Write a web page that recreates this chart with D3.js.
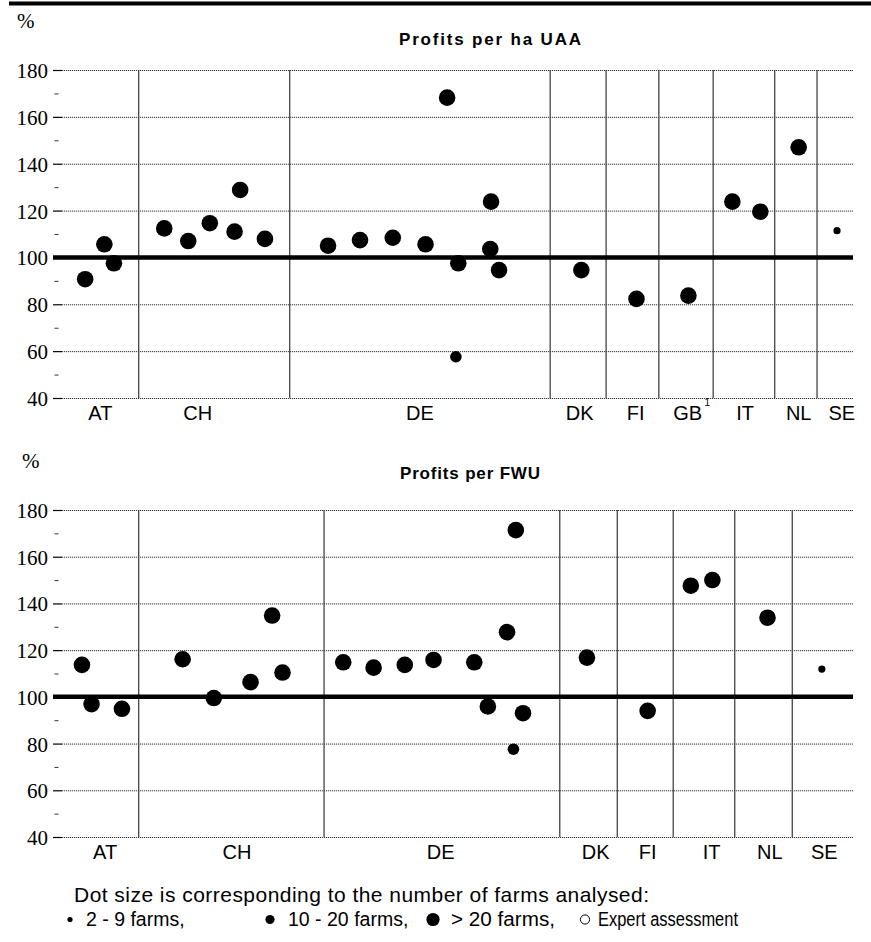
<!DOCTYPE html>
<html>
<head>
<meta charset="utf-8">
<script src="https://cdn.jsdelivr.net/npm/d3@7"></script>
<style>
  html, body { margin: 0; padding: 0; background: #fff; }
  svg { display: block; }
</style>
</head>
<body>
<svg id="chart" width="871" height="942"></svg>
<script>
// ---------------- DATA ----------------
const yTicksMajor = [40, 60, 80, 100, 120, 140, 160, 180];
const yTicksMinor = [50, 70, 90, 110, 130, 150, 170];

// Panel 1: Profits per ha UAA
const uaaCountries = ["AT", "CH", "DE", "DK", "FI", "GB", "IT", "NL", "SE"];
const uaaCountrySlot = [5.8, 18.0, 45.8, 65.8, 72.8, 79.3, 86.5, 93.2, 98.6];
const uaaDividers = [10.6, 29.5, 62.1, 69.1, 75.7, 82.5, 90.2, 95.5];
const uaaSlot  = [3.9, 6.3, 7.5,
                  13.8, 16.8, 19.5, 22.6, 23.3, 26.4,
                  34.3, 38.3, 42.4, 46.5, 49.2, 50.6, 50.3, 54.7, 54.6, 55.7,
                  66.0, 72.9, 79.4, 84.9, 88.4, 93.2, 98.0];
const uaaValue = [90.7, 105.6, 97.5,
                  112.4, 107.0, 114.6, 111.0, 128.8, 107.9,
                  105.0, 107.4, 108.4, 105.6, 168.2, 97.5, 57.6, 123.8, 103.6, 94.6,
                  94.6, 82.3, 83.7, 123.8, 119.5, 147.0, 111.4];
const uaaSize  = ["L","L","L",
                  "L","L","L","L","L","L",
                  "L","L","L","L","L","L","M","L","L","L",
                  "L","L","L","L","L","L","S"];

// Panel 2: Profits per FWU
const fwuCountries = ["AT", "CH", "DE", "DK", "FI", "IT", "NL", "SE"];
const fwuCountrySlot = [6.4, 22.9, 48.4, 67.8, 74.3, 82.3, 89.6, 96.4];
const fwuDividers = [10.6, 33.8, 63.3, 70.5, 77.5, 85.2, 92.4];
const fwuSlot  = [3.5, 4.7, 8.5,
                  16.1, 20.0, 24.6, 27.3, 28.6,
                  36.2, 40.0, 43.9, 47.5, 52.6, 54.3, 56.7, 57.5, 57.8, 58.7,
                  66.7, 74.3, 79.7, 82.4, 89.3, 96.1];
const fwuValue = [113.7, 96.9, 94.9,
                  116.1, 99.5, 106.3, 134.8, 110.4,
                  114.8, 112.5, 113.7, 115.8, 114.8, 95.9, 127.7, 77.6, 171.4, 93.0,
                  116.8, 94.0, 147.6, 150.0, 133.9, 111.9];
const fwuSize  = ["L","L","L",
                  "L","L","L","L","L",
                  "L","L","L","L","L","L","L","M","L","L",
                  "L","L","L","L","L","S"];

const sizeClasses = ["S", "M", "L"];
const legendTitle = "Dot size is corresponding to the number of farms analysed:";
const legendLabels = ["2 - 9 farms,", "10 - 20 farms,", "> 20 farms,", "Expert assessment"];

// ---------------- DRAWING ----------------
const svg = d3.select("#chart");
const serif = "'Liberation Serif', 'Times New Roman', Times, serif";
const sans = "'Liberation Sans', Arial, Helvetica, sans-serif";

const rScale = d3.scaleOrdinal().domain(sizeClasses).range([3.6, 5.8, 8.3]);

// top rule
svg.append("line").attr("x1", 9).attr("x2", 871).attr("y1", 3.5).attr("y2", 3.5)
  .attr("stroke", "#000").attr("stroke-width", 4);

function drawPanel(opts) {
  const g = svg.append("g");
  const x = d3.scaleLinear().domain([0, 100]).range([54, 853]);
  const y = d3.scaleLinear().domain([40, 180]).range([opts.yBottom, opts.yTop]);

  // % sign
  g.append("text").attr("x", opts.pctX).attr("y", opts.pctY)
    .attr("font-family", serif).attr("font-size", 21).text("%");

  // title
  g.append("text").attr("x", opts.titleX).attr("y", opts.titleY)
    .attr("font-family", sans).attr("font-size", 17).attr("font-weight", "bold")
    .attr("textLength", opts.titleLen).attr("lengthAdjust", "spacing")
    .text(opts.title);

  // grid (dotted)
  const grid = g.append("g").attr("transform", "translate(62,0)")
    .call(d3.axisLeft(y).tickValues(yTicksMajor.filter(v => v !== 100))
      .tickSize(-(853 - 62)).tickFormat(""));
  grid.select(".domain").remove();
  grid.selectAll("line").attr("stroke", "#333").attr("stroke-width", 1)
    .attr("stroke-dasharray", "1.2,0.8");

  // major ticks + labels
  const ax = g.append("g").attr("transform", "translate(62,0)")
    .call(d3.axisLeft(y).tickValues(yTicksMajor).tickSize(9).tickPadding(5)
      .tickFormat(d3.format("d")));
  ax.select(".domain").remove();
  ax.selectAll("line").attr("stroke", "#000").attr("stroke-width", 1.2);
  ax.selectAll("text").attr("font-family", serif).attr("font-size", 21)
    .attr("fill", "#000").attr("dy", "0.36em");

  // minor ticks
  const mi = g.append("g").attr("transform", "translate(58.5,0)")
    .call(d3.axisLeft(y).tickValues(yTicksMinor).tickSize(4).tickFormat(""));
  mi.select(".domain").remove();
  mi.selectAll("line").attr("stroke", "#333").attr("stroke-width", 1);

  // vertical dividers
  g.selectAll("line.div").data(opts.dividers).join("line").attr("class", "div")
    .attr("x1", d => x(d)).attr("x2", d => x(d))
    .attr("y1", y(180)).attr("y2", y(40))
    .attr("stroke", "#444").attr("stroke-width", 1.3);

  // 100 reference line
  g.append("line").attr("x1", 53).attr("x2", 853)
    .attr("y1", y(100)).attr("y2", y(100))
    .attr("stroke", "#000").attr("stroke-width", 4.5);

  // country labels
  g.selectAll("text.cty").data(opts.countries).join("text").attr("class", "cty")
    .attr("x", (d, i) => x(opts.countrySlot[i])).attr("y", y(40) + 22)
    .attr("text-anchor", "middle").attr("font-family", sans).attr("font-size", 20)
    .text(d => d);

  if (opts.footnote) {
    const i = opts.countries.indexOf(opts.footnote);
    g.append("text").attr("x", x(opts.countrySlot[i]) + 17).attr("y", y(40) + 8)
      .attr("font-family", sans).attr("font-size", 10).text("1");
  }

  // dots
  const pts = opts.slot.map((s, i) => ({ s, v: opts.value[i], c: opts.size[i] }));
  g.selectAll("circle.pt").data(pts).join("circle").attr("class", "pt")
    .attr("cx", d => x(d.s)).attr("cy", d => y(d.v)).attr("r", d => rScale(d.c))
    .attr("fill", "#000");
}

drawPanel({
  title: "Profits per ha UAA", titleX: 399, titleY: 45, titleLen: 182,
  pctX: 17, pctY: 28,
  yTop: 70, yBottom: 398,
  countries: uaaCountries, countrySlot: uaaCountrySlot, dividers: uaaDividers,
  slot: uaaSlot, value: uaaValue, size: uaaSize, footnote: "GB"
});

drawPanel({
  title: "Profits per FWU", titleX: 400, titleY: 479, titleLen: 140,
  pctX: 22, pctY: 468,
  yTop: 510, yBottom: 837,
  countries: fwuCountries, countrySlot: fwuCountrySlot, dividers: fwuDividers,
  slot: fwuSlot, value: fwuValue, size: fwuSize
});

// ---------------- LEGEND ----------------
const lg = svg.append("g");
lg.append("text").attr("x", 74).attr("y", 902)
  .attr("font-family", sans).attr("font-size", 21)
  .attr("textLength", 575).attr("lengthAdjust", "spacing")
  .text(legendTitle);

const legendItems = [
  { dotX: 70, r: 2.6, fill: "#000", textX: 86, len: null },
  { dotX: 270, r: 4.6, fill: "#000", textX: 288, len: null },
  { dotX: 433, r: 6.6, fill: "#000", textX: 451, len: 104 },
  { dotX: 585, r: 4.6, fill: "none", textX: 598, len: 140 }
];
legendItems.forEach((it, i) => {
  lg.append("circle").attr("cx", it.dotX).attr("cy", 919.5).attr("r", it.r)
    .attr("fill", it.fill).attr("stroke", it.fill === "none" ? "#000" : "none")
    .attr("stroke-width", 1);
  const t = lg.append("text").attr("x", it.textX).attr("y", 926)
    .attr("font-family", sans).attr("font-size", 19.5)
    .text(legendLabels[i]);
  if (it.len) t.attr("textLength", it.len).attr("lengthAdjust", "spacingAndGlyphs");
});
</script>
</body>
</html>
